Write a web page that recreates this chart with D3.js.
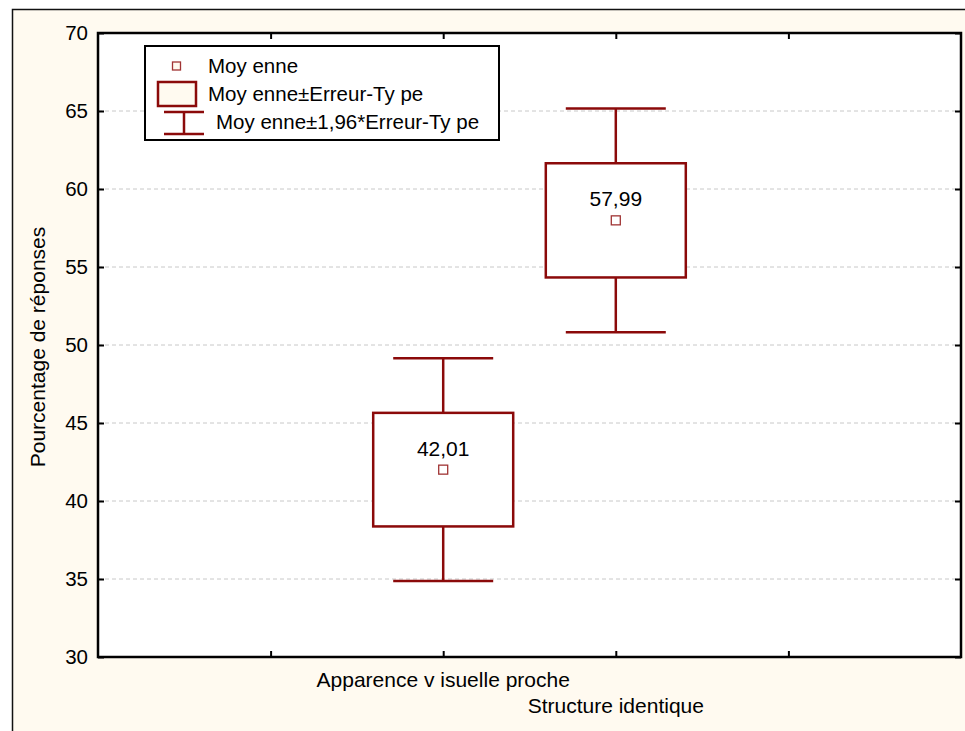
<!DOCTYPE html>
<html>
<head>
<meta charset="utf-8">
<script src="https://cdn.jsdelivr.net/npm/d3@7/dist/d3.min.js"></script>
<style>
  html, body { margin: 0; padding: 0; background: #ffffff; }
  svg { display: block; font-family: "Liberation Sans", Arial, sans-serif; }
</style>
</head>
<body>
<svg id="chart" width="965" height="731"></svg>
<script>
// Categories and summary statistics (mean, standard error)
const categories = ["Apparence v isuelle proche", "Structure identique"];
const means = [42.01, 57.99];
const stdErrors = [3.64, 3.66];
const ciFactor = 1.96;
const yTicks = [30, 35, 40, 45, 50, 55, 60, 65, 70];
const legendLabels = ["Moy enne", "Moy enne±Erreur-Ty pe", "Moy enne±1,96*Erreur-Ty pe"];

const svg = d3.select("#chart");
const dark = "#8b0a0a";
const fontSize = "21px";

// Outer panel
svg.append("rect").attr("x", 0).attr("y", 0).attr("width", 965).attr("height", 731).attr("fill", "#ffffff");
svg.append("rect").attr("x", 12.5).attr("y", 9.5).attr("width", 960).attr("height", 730)
  .attr("fill", "#fffaf0").attr("stroke", "#111").attr("stroke-width", 1.5);

const plot = { left: 98, top: 33, right: 961, bottom: 657 };

const x = d3.scaleLinear().domain([0, 5]).range([plot.left, plot.right]);
const y = d3.scaleLinear().domain([30, 70]).range([plot.bottom, plot.top]);

svg.append("rect").attr("x", plot.left).attr("y", plot.top)
  .attr("width", plot.right - plot.left).attr("height", plot.bottom - plot.top).attr("fill", "#ffffff");

// Horizontal dashed gridlines
svg.append("g").selectAll("line").data(yTicks.filter(t => t > 30 && t < 70)).join("line")
  .attr("x1", plot.left).attr("x2", plot.right)
  .attr("y1", d => y(d)).attr("y2", d => y(d))
  .attr("stroke", "#c8c8c8").attr("stroke-width", 1).attr("stroke-dasharray", "4,3");

// Axes with inward ticks
const xTickVals = [1, 2, 3, 4];
const axL = d3.axisLeft(y).tickValues(yTicks).tickSize(-6).tickPadding(10).tickFormat(d3.format("d"));
const axR = d3.axisRight(y).tickValues(yTicks).tickSize(-6).tickFormat("");
const axB = d3.axisBottom(x).tickValues(xTickVals).tickSize(-6).tickFormat("");
const axT = d3.axisTop(x).tickValues(xTickVals).tickSize(-6).tickFormat("");

function styleAxis(g) {
  g.select(".domain").remove();
  g.selectAll(".tick line").attr("stroke", "#000").attr("stroke-width", 2);
  g.selectAll(".tick text").attr("fill", "#000").style("font-size", "20.5px")
    .style("font-family", "'Liberation Sans', Arial, sans-serif");
}
svg.append("g").attr("transform", `translate(${plot.left},0)`).call(axL).call(styleAxis);
svg.append("g").attr("transform", `translate(${plot.right},0)`).call(axR).call(styleAxis);
svg.append("g").attr("transform", `translate(0,${plot.bottom})`).call(axB).call(styleAxis);
svg.append("g").attr("transform", `translate(0,${plot.top})`).call(axT).call(styleAxis);

svg.append("rect").attr("x", plot.left).attr("y", plot.top)
  .attr("width", plot.right - plot.left).attr("height", plot.bottom - plot.top)
  .attr("fill", "none").attr("stroke", "#000").attr("stroke-width", 2.5);

// Boxes, whiskers and mean markers
const boxW = 140, capW = 100;
const data = categories.map((c, i) => ({ cat: c, pos: i + 2, m: means[i], se: stdErrors[i] }));
const g = svg.append("g");
data.forEach(d => {
  const cx = x(d.pos);
  const ci = d.se * ciFactor;
  g.append("line").attr("x1", cx).attr("x2", cx).attr("y1", y(d.m + ci)).attr("y2", y(d.m + d.se))
    .attr("stroke", dark).attr("stroke-width", 2.5);
  g.append("line").attr("x1", cx).attr("x2", cx).attr("y1", y(d.m - d.se)).attr("y2", y(d.m - ci))
    .attr("stroke", dark).attr("stroke-width", 2.5);
  g.append("line").attr("x1", cx - capW / 2).attr("x2", cx + capW / 2).attr("y1", y(d.m + ci)).attr("y2", y(d.m + ci))
    .attr("stroke", dark).attr("stroke-width", 2.5);
  g.append("line").attr("x1", cx - capW / 2).attr("x2", cx + capW / 2).attr("y1", y(d.m - ci)).attr("y2", y(d.m - ci))
    .attr("stroke", dark).attr("stroke-width", 2.5);
  g.append("rect").attr("x", cx - boxW / 2).attr("y", y(d.m + d.se))
    .attr("width", boxW).attr("height", y(d.m - d.se) - y(d.m + d.se))
    .attr("fill", "#ffffff").attr("stroke", dark).attr("stroke-width", 2.5);
  g.append("rect").attr("x", cx - 4.5).attr("y", y(d.m) - 4.5).attr("width", 9).attr("height", 9)
    .attr("fill", "#ffffff").attr("stroke", "#a03434").attr("stroke-width", 1.3);
  g.append("text").attr("x", cx).attr("y", y(d.m) - 14).attr("text-anchor", "middle")
    .style("font-size", fontSize).attr("fill", "#000").text(d3.format(".2f")(d.m).replace(".", ","));
});

// Category labels (staggered)
data.forEach((d, i) => {
  svg.append("text").attr("x", x(d.pos)).attr("y", 687 + i * 26).attr("text-anchor", "middle")
    .style("font-size", fontSize).attr("fill", "#000").text(d.cat);
});

// Y axis title
svg.append("text").attr("transform", `translate(45,${(plot.top + plot.bottom) / 2 + 2}) rotate(-90)`)
  .attr("text-anchor", "middle").style("font-size", fontSize).attr("fill", "#000")
  .text("Pourcentage de réponses");

// Legend
const lg = svg.append("g");
lg.append("rect").attr("x", 145).attr("y", 46).attr("width", 354).attr("height", 94)
  .attr("fill", "#ffffff").attr("stroke", "#000").attr("stroke-width", 2);
lg.append("rect").attr("x", 172.5).attr("y", 62).attr("width", 8).attr("height", 8)
  .attr("fill", "#fffaf0").attr("stroke", "#a03434").attr("stroke-width", 1.3);
lg.append("rect").attr("x", 158).attr("y", 82).attr("width", 38).attr("height", 24)
  .attr("fill", "#fffaf0").attr("stroke", dark).attr("stroke-width", 2.5);
lg.append("line").attr("x1", 164).attr("x2", 204).attr("y1", 112).attr("y2", 112).attr("stroke", dark).attr("stroke-width", 2.5);
lg.append("line").attr("x1", 164).attr("x2", 204).attr("y1", 134).attr("y2", 134).attr("stroke", dark).attr("stroke-width", 2.5);
lg.append("line").attr("x1", 184).attr("x2", 184).attr("y1", 112).attr("y2", 134).attr("stroke", dark).attr("stroke-width", 2.5);
const lgX = [208, 208, 216], lgY = [73, 101, 129];
legendLabels.forEach((t, i) => {
  lg.append("text").attr("x", lgX[i]).attr("y", lgY[i]).style("font-size", "20.5px").attr("fill", "#000").text(t);
});
</script>
</body>
</html>
